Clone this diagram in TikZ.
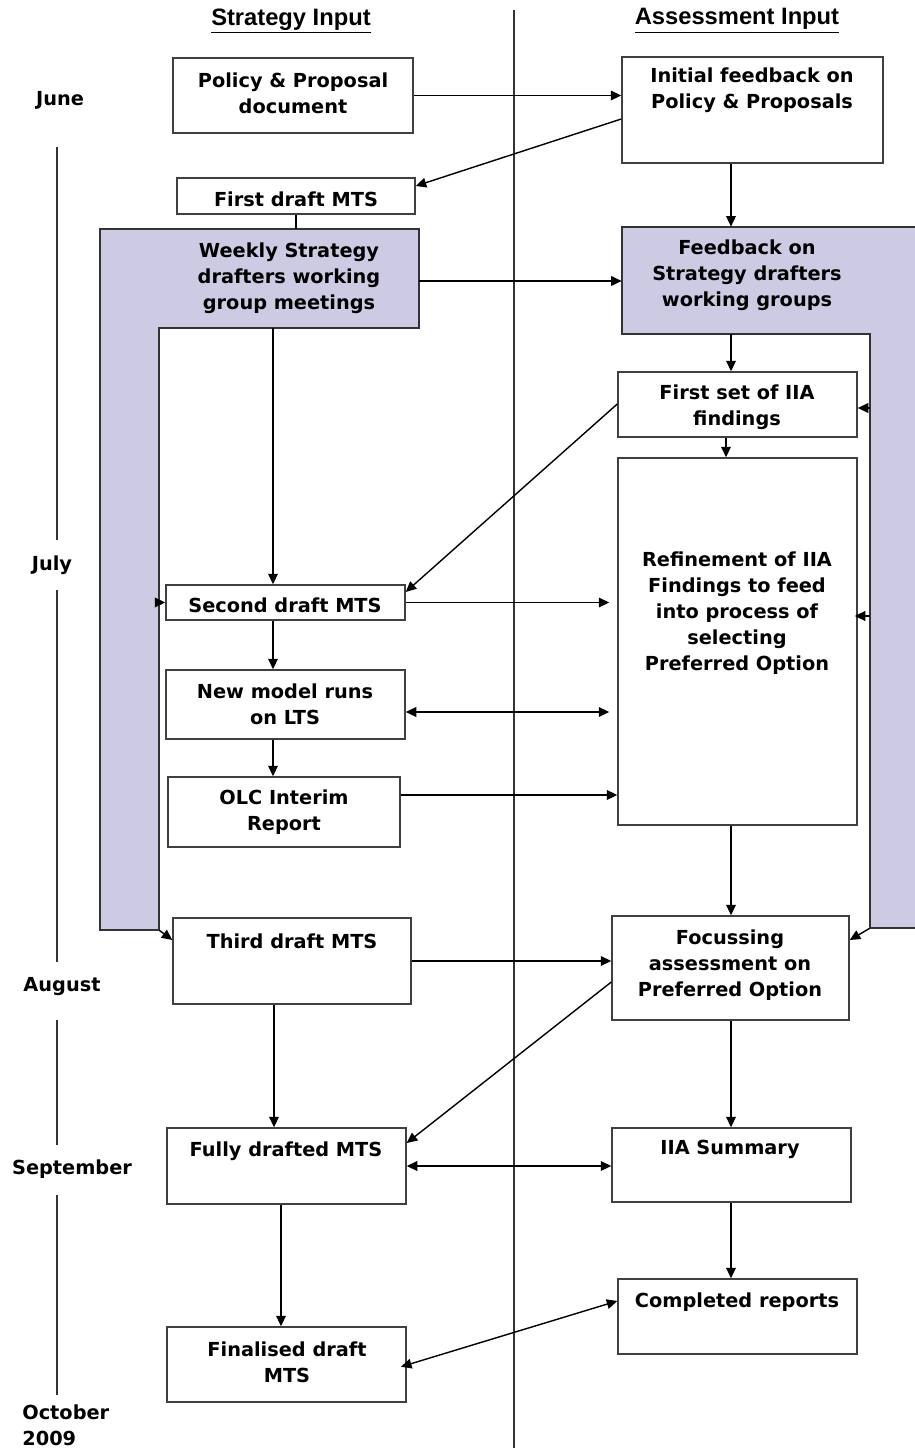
\documentclass[tikz,border=0pt]{standalone}
\usepackage{fontspec}
\setmainfont{DejaVu Sans}
\newfontfamily\headfont{Liberation Sans}
\usetikzlibrary{fit,arrows.meta}
\definecolor{bandfill}{RGB}{205,203,228}
\tikzset{
	box/.style={draw=black!75, line width=0.8pt, inner sep=0pt},
	band/.style={draw=black!80, line width=0.8pt, fill=bandfill},
	txt/.style={font=\bfseries\fontsize{11}{14.8}\selectfont, align=center, inner sep=0pt, yshift=-0.04cm},
	month/.style={font=\bfseries\fontsize{11}{14.8}\selectfont, align=left, inner sep=0pt},
	head/.style={font=\headfont\bfseries\fontsize{13.5}{16}\selectfont, inner sep=0pt},
	flow/.style={-{Triangle[length=6pt,width=5.5pt]}, line width=0.8pt},
	both/.style={{Triangle[length=6pt,width=5.5pt]}-{Triangle[length=6pt,width=5.5pt]}, line width=0.8pt},
	timeline/.style={line width=0.6pt, draw=black!80},
}

\begin{document}
\begin{tikzpicture}[x=0.02cm, y=-0.02cm]
		%%%%% START %%%%%
		\useasboundingbox (0,0) rectangle (914,1452);
		
		% headers and divider
		\node[head] (shead) at (291,21) {\underline{Strategy Input}};
		\node[head] (ahead) at (737,21) {\underline{Assessment Input}};
		\draw[timeline] (514,10) -- (514,1448);
		
		% months
		\node[month] (june) at (60,100) {June};
		\node[month] (july) at (52,565) {July};
		\node[month] (august) at (62,987) {August};
		\node[month] (september) at (72,1169) {September};
		\node[month, anchor=west] (october) at (22,1425) {October\\2009};
		\draw[timeline] (57,147) -- (57,540);
		\draw[timeline] (57,590) -- (57,962);
		\draw[timeline] (57,1020) -- (57,1145);
		\draw[timeline] (57,1195) -- (57,1395);
		
		% shaded bands
		\draw[band] (100,229) -- (419,229) -- (419,328) -- (159,328) -- (159,930) -- (100,930) -- cycle;
		\draw[band] (622,227) -- (918,227) -- (918,928) -- (870,928) -- (870,334) -- (622,334) -- cycle;
		\node[inner sep=0pt, fit={(100,229) (419,328)}] (weekly) {};
		\node[inner sep=0pt, fit={(100,229) (159,930)}] (weeklybar) {};
		\node[inner sep=0pt, fit={(622,227) (914,334)}] (feedback) {};
		\node[inner sep=0pt, fit={(870,334) (914,928)}] (feedbar) {};
		\node[txt] (weeklytxt) at (289,276) {Weekly Strategy\\drafters working\\group meetings};
		\node[txt] (feedbacktxt) at (747,273) {Feedback on\\Strategy drafters\\working groups};
		
		% strategy column
		\node[box, fit={(173,58) (413,133)}] (policy) {};
		\node[txt] (policytxt) at (293,91.5) {Policy \& Proposal\\document};
		\node[box, fit={(177,178) (415,214)}] (firstdraft) {};
		\node[txt] (firstdrafttxt) at (296,197) {First draft MTS};
		\node[box, fit={(166,585) (405,620)}] (second) {};
		\node[txt] (secondtxt) at (285,603) {Second draft MTS};
		\node[box, fit={(166,670) (405,739)}] (newmodel) {};
		\node[txt] (newmodeltxt) at (285,702) {New model runs\\on LTS};
		\node[box, fit={(168,777) (400,847)}] (olc) {};
		\node[txt] (olctxt) at (284,810) {OLC Interim\\Report};
		\node[box, fit={(173,918) (411,1004)}] (third) {};
		\node[txt] (thirdtxt) at (292,939) {Third draft MTS};
		\node[box, fit={(167,1128) (406,1204)}] (fully) {};
		\node[txt] (fullytxt) at (286,1149) {Fully drafted MTS};
		\node[box, fit={(167,1327) (406,1402)}] (finalised) {};
		\node[txt] (finalisedtxt) at (287,1360) {Finalised draft\\MTS};
		
		% assessment column
		\node[box, fit={(622,57) (883,163)}] (initial) {};
		\node[txt] (initialtxt) at (752,88.5) {Initial feedback on\\Policy \& Proposals};
		\node[box, fit={(618,372) (857,437)}] (firstset) {};
		\node[txt] (firstsettxt) at (737,405) {First set of IIA\\findings};
		\node[box, fit={(618,458) (857,825)}] (refinement) {};
		\node[txt] (refinementtxt) at (737,611) {Refinement of IIA\\Findings to feed\\into process of\\selecting\\Preferred Option};
		\node[box, fit={(612,916) (849,1020)}] (focussing) {};
		\node[txt] (focussingtxt) at (730,963) {Focussing\\assessment on\\Preferred Option};
		\node[box, fit={(612,1128) (851,1202)}] (iiasum) {};
		\node[txt] (iiasumtxt) at (730,1147) {IIA Summary};
		\node[box, fit={(618,1279) (857,1354)}] (completed) {};
		\node[txt] (completedtxt) at (737,1300) {Completed reports};
		
		% connectors
		\draw[flow] (policy.east) -- (initial.west |- policy.east);
		\draw[flow] (initial.west |- 0,119) -- (firstdraft.east |- 0,186);
		\draw[line width=0.8pt] (firstdraft.south) -- (firstdraft.south |- weekly.north);
		\draw[flow] (weekly.east |- 0,281) -- (feedback.west |- 0,281);
		\draw[flow] (initial.south -| 731,0) -- (feedback.north -| 731,0);
		\draw[flow] (weekly.south -| 273,0) -- (second.north -| 273,0);
		\draw[flow] (feedback.south -| 731,0) -- (firstset.north -| 731,0);
		\draw[flow] (firstset.west |- 0,404) -- (second.east |- 0,592);
		\draw[flow] (firstset.south -| 726,0) -- (refinement.north -| 726,0);
		\draw[flow, shorten >=0.16cm] (second.east) -- (refinement.west |- second.east);
		\draw[flow] (second.south -| 273,0) -- (newmodel.north -| 273,0);
		\draw[both, shorten >=0.16cm] (newmodel.east |- 0,712) -- (refinement.west |- 0,712);
		\draw[flow] (newmodel.south -| 273,0) -- (olc.north -| 273,0);
		\draw[flow] (olc.east |- 0,795) -- (refinement.west |- 0,795);
		\draw[flow] (refinement.south -| 731,0) -- (focussing.north -| 731,0);
		
		\draw[flow] (weeklybar.east |- second.west) -- (second.west);
		\draw[flow] (weeklybar.south east) -- (third.west |- 0,940);
		\draw[flow] (feedbar.west |- 0,408) -- (firstset.east |- 0,408);
		\draw[flow, shorten >=-0.06cm] (feedbar.west |- 0,616) -- (refinement.east |- 0,616);
		\draw[flow] (feedbar.south west) -- (focussing.east |- 0,940);
		
		\draw[flow] (third.east |- 0,961) -- (focussing.west |- 0,961);
		\draw[flow] (third.south -| 274,0) -- (fully.north -| 274,0);
		\draw[flow] (focussing.west |- 0,982) -- (fully.east |- 0,1143);
		\draw[flow] (focussing.south -| 731,0) -- (iiasum.north -| 731,0);
		\draw[both] (fully.east |- 0,1166) -- (iiasum.west |- 0,1166);
		\draw[flow] (fully.south -| 281,0) -- (finalised.north -| 281,0);
		\draw[flow] (iiasum.south -| 731,0) -- (completed.north -| 731,0);
		\draw[both, shorten <=-0.12cm] (finalised.east |- 0,1365) -- (completed.west |- 0,1301);
		
		%%%%% END %%%%%
	\end{tikzpicture}
\end{document}
